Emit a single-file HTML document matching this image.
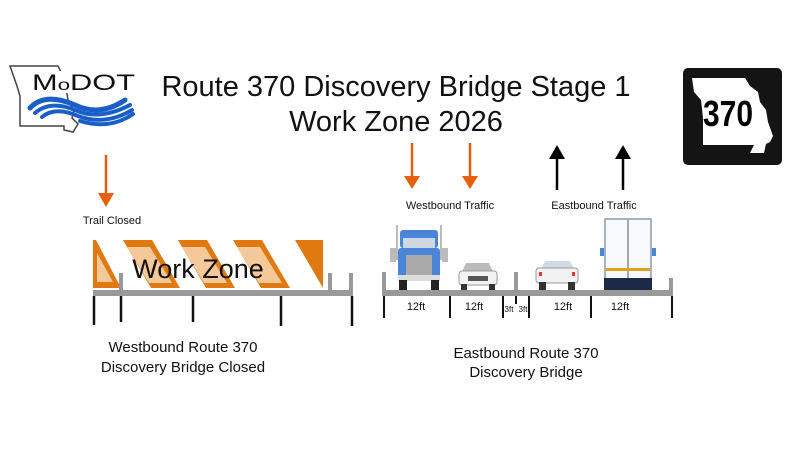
<!DOCTYPE html>
<html><head><meta charset="utf-8"><style>
html,body{margin:0;padding:0;background:#fff;}
svg{display:block;font-family:"Liberation Sans",sans-serif;}
</style></head><body>
<svg width="800" height="450" viewBox="0 0 800 450" xmlns="http://www.w3.org/2000/svg">
<!-- MoDOT logo -->
<path d="M10 66 L58 66 L63 76 L61 82 L66 88 L68 100 L74 110 L72 118 L78 124 L73 132 L64 130 L64 126 L20 126 L20 96 L17 86 Z" fill="none" stroke="#444" stroke-width="1.5"/>
<rect x="30" y="71" width="108" height="22" fill="#fff"/>
<text x="32" y="90" font-size="22" fill="#111" textLength="103" lengthAdjust="spacingAndGlyphs">M<tspan font-size="16">o</tspan>DOT</text>
<g fill="none" stroke="#1a5fc8" stroke-linecap="round">
<path d="M30 108 Q45 92 75 105 Q100 117 125 100" stroke-width="5"/>
<path d="M35 113 Q50 100 75 110 Q100 121 130 105" stroke-width="4"/>
<path d="M42 117 Q55 106 78 116 Q105 126 132 110" stroke-width="4"/>
<path d="M80 121 Q110 130 133 114" stroke-width="4"/>
</g>
<!-- Title -->
<text x="396" y="96" font-size="29" text-anchor="middle" fill="#111">Route 370 Discovery Bridge Stage 1</text>
<text x="396" y="131" font-size="29" text-anchor="middle" fill="#111">Work Zone 2026</text>
<!-- Shield -->
<rect x="683" y="68" width="99" height="97" rx="5" fill="#141414"/>
<path d="M692 78 L745 78 L750 86 L758 92 L760 102 L766 110 L768 122 L773 136 L770 142 L766 144 L764 153 L750 153 L754 145 L703 145 L703 118 L701 100 L694 92 Z" fill="#fff"/>
<text x="728" y="126" font-size="36" font-weight="bold" text-anchor="middle" fill="#000" textLength="50" lengthAdjust="spacingAndGlyphs">370</text>
<!-- arrows -->
<g stroke-width="2.5">
<line x1="106" y1="155" x2="106" y2="195" stroke="#e8600f"/>
<line x1="412" y1="143" x2="412" y2="178" stroke="#e8600f"/>
<line x1="470" y1="143" x2="470" y2="178" stroke="#e8600f"/>
<line x1="557" y1="157" x2="557" y2="190" stroke="#000"/>
<line x1="623" y1="157" x2="623" y2="190" stroke="#000"/>
</g>
<polygon points="98,193 114,193 106,207" fill="#e8600f"/>
<polygon points="404,176 420,176 412,189" fill="#e8600f"/>
<polygon points="462,176 478,176 470,189" fill="#e8600f"/>
<polygon points="549,159 565,159 557,145" fill="#000"/>
<polygon points="615,159 631,159 623,145" fill="#000"/>
<text x="112" y="224" font-size="11" text-anchor="middle" fill="#111">Trail Closed</text>
<text x="450" y="209" font-size="11" text-anchor="middle" fill="#111">Westbound Traffic</text>
<text x="594" y="209" font-size="11" text-anchor="middle" fill="#111">Eastbound Traffic</text>
<!-- barricade -->
<polygon points="93,240 96,240 121,288 93,288" fill="#e07a10"/>
<polygon points="97,253 113,282 97,282" fill="#f5c89a"/>
<g>
<polygon points="123,240 152,240 180,288 151,288" fill="#e07a10"/>
<polygon points="127,247 150,247 172,283 149,283" fill="#f5c89a"/>
<polygon points="178,240 207,240 235,288 206,288" fill="#e07a10"/>
<polygon points="182,247 205,247 227,283 204,283" fill="#f5c89a"/>
<polygon points="233,240 262,240 290,288 261,288" fill="#e07a10"/>
<polygon points="237,247 260,247 282,283 259,283" fill="#f5c89a"/>
<polygon points="295,240 323,240 323,288" fill="#e07a10"/>
</g>
<text x="198" y="278" font-size="27" text-anchor="middle" fill="#111">Work Zone</text>
<!-- left deck -->
<g fill="#999">
<rect x="93" y="290" width="260" height="6"/>
<rect x="119" y="273" width="4" height="20"/>
<rect x="328" y="273" width="4" height="20"/>
<rect x="349" y="273" width="4" height="20"/>
</g>
<g stroke="#111" stroke-width="2.5">
<line x1="94" y1="296" x2="94" y2="325"/>
<line x1="121" y1="296" x2="121" y2="322"/>
<line x1="193" y1="296" x2="193" y2="322"/>
<line x1="281" y1="296" x2="281" y2="326"/>
<line x1="352" y1="296" x2="352" y2="326"/>
</g>
<!-- right deck -->
<g fill="#999">
<rect x="382" y="290" width="291" height="6"/>
<rect x="382" y="272" width="4" height="20"/>
<rect x="514" y="272" width="4" height="20"/>
<rect x="669" y="278" width="4" height="14"/>
</g>
<g stroke="#111" stroke-width="2">
<line x1="384" y1="296" x2="384" y2="318"/>
<line x1="450" y1="296" x2="450" y2="318"/>
<line x1="503" y1="296" x2="503" y2="318"/>
<line x1="516" y1="296" x2="516" y2="304"/>
<line x1="529" y1="296" x2="529" y2="318"/>
<line x1="591" y1="296" x2="591" y2="318"/>
<line x1="672" y1="296" x2="672" y2="318"/>
</g>
<g font-size="11" text-anchor="middle" fill="#111">
<text x="416" y="310">12ft</text>
<text x="474" y="310">12ft</text>
<text x="509" y="312" font-size="8">3ft</text>
<text x="523" y="312" font-size="8">3ft</text>
<text x="563" y="310">12ft</text>
<text x="620" y="310">12ft</text>
</g>
<!-- blue truck -->
<g>
<rect x="396" y="225" width="2" height="35" fill="#bbb"/>
<rect x="440" y="225" width="2" height="35" fill="#bbb"/>
<rect x="400" y="230" width="38" height="18" rx="3" fill="#4a86d8"/>
<rect x="403" y="238" width="32" height="10" fill="#cfd8e0"/>
<rect x="398" y="248" width="42" height="32" rx="3" fill="#4a86d8"/>
<rect x="406" y="255" width="26" height="20" fill="#aaa"/>
<rect x="398" y="275" width="42" height="6" fill="#ddd"/>
<rect x="399" y="280" width="8" height="10" fill="#222"/>
<rect x="431" y="280" width="8" height="10" fill="#222"/>
<rect x="390" y="248" width="6" height="14" fill="#bbb"/>
<rect x="442" y="248" width="6" height="14" fill="#bbb"/>
</g>
<!-- white car W -->
<g>
<path d="M462 272 L466 263 L489 263 L493 272 Z" fill="#bbb"/>
<rect x="459" y="271" width="38" height="14" rx="3" fill="#f2f2f2" stroke="#999"/>
<rect x="468" y="276" width="20" height="5" fill="#555"/>
<rect x="461" y="284" width="6" height="6" fill="#333"/>
<rect x="489" y="284" width="6" height="6" fill="#333"/>
</g>
<!-- white car E -->
<g>
<path d="M541 269 L545 261 L570 261 L574 269 Z" fill="#cfdbe5"/>
<rect x="536" y="268" width="42" height="15" rx="3" fill="#f2f2f2" stroke="#999"/>
<rect x="539" y="272" width="3" height="4" fill="#e33"/>
<rect x="572" y="272" width="3" height="4" fill="#e33"/>
<rect x="539" y="282" width="7" height="8" fill="#333"/>
<rect x="568" y="282" width="7" height="8" fill="#333"/>
</g>
<!-- box truck -->
<g>
<rect x="605" y="219" width="46" height="60" fill="#f7f9fc" stroke="#8a99b0" stroke-width="1.5"/>
<line x1="628" y1="220" x2="628" y2="278" stroke="#555"/>
<rect x="600" y="248" width="4" height="8" fill="#4a86d8"/>
<rect x="652" y="248" width="4" height="8" fill="#4a86d8"/>
<rect x="606" y="268" width="44" height="3" fill="#e0a020"/>
<rect x="604" y="278" width="48" height="12" fill="#1c2a48"/>
</g>
<!-- bottom labels -->
<g font-size="15" text-anchor="middle" fill="#111">
<text x="183" y="352">Westbound Route 370</text>
<text x="183" y="372">Discovery Bridge Closed</text>
<text x="526" y="358">Eastbound Route 370</text>
<text x="526" y="377">Discovery Bridge</text>
</g>
</svg>
</body></html>
